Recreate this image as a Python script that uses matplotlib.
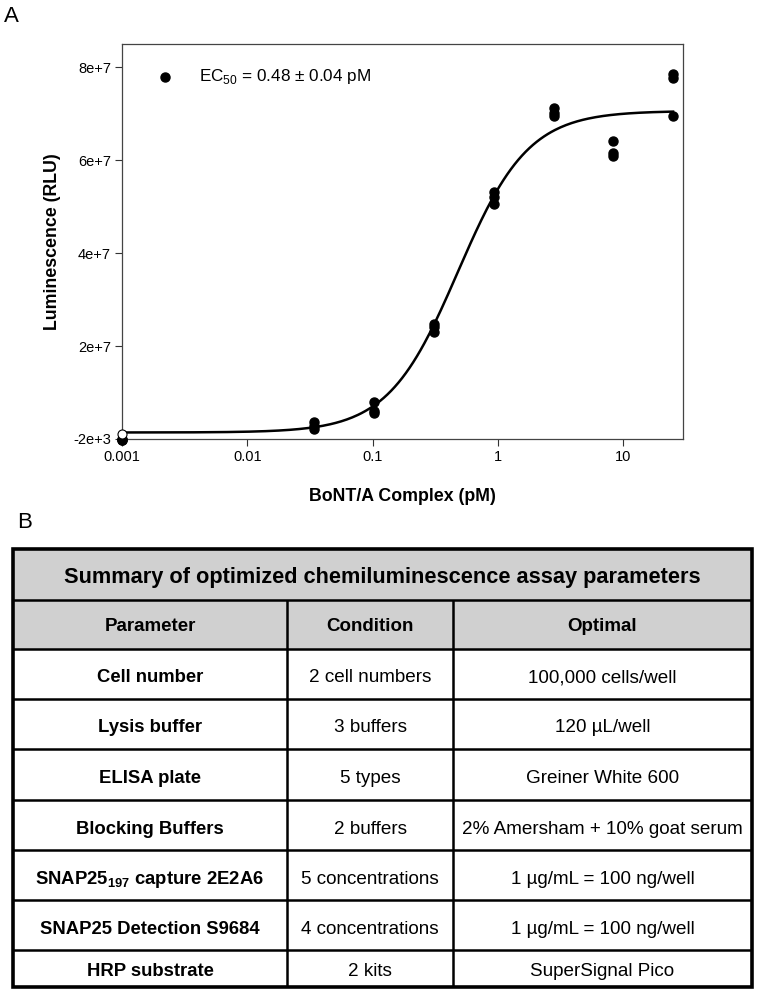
import numpy as np
import matplotlib
matplotlib.use("Agg")
import matplotlib.pyplot as plt
from matplotlib.patches import Rectangle

plt.rcParams['font.family'] = ['Liberation Sans', 'DejaVu Sans']
plt.rcParams['mathtext.fontset'] = 'custom'
plt.rcParams['mathtext.rm'] = 'Liberation Sans'
plt.rcParams['mathtext.bf'] = 'Liberation Sans:bold'

# --- panel A data (RLU) ---
conc = [0.001, 0.0343, 0.103, 0.309, 0.926, 2.78, 8.33, 25.0]
rep1 = [-0.1e6, 3.6e6, 8.0e6, 24.8e6, 53.2e6, 71.3e6, 64.2e6, 78.6e6]
rep2 = [-0.2e6, 2.8e6, 6.0e6, 24.0e6, 52.0e6, 70.2e6, 61.6e6, 77.7e6]
rep3 = [-0.3e6, 2.2e6, 5.6e6, 23.0e6, 50.6e6, 69.4e6, 60.8e6, 69.6e6]
open_x = [0.001]
open_y = [1.0e6]

# 4PL fit parameters
bottom, top, ec50, hill = 1.4e6, 70.6e6, 0.48, 1.55

# --- panel B table ---
title = "Summary of optimized chemiluminescence assay parameters"
headers = ["Parameter", "Condition", "Optimal"]
params = ["Cell number", "Lysis buffer", "ELISA plate", "Blocking Buffers",
          r"SNAP25$_{\mathbf{197}}$ capture 2E2A6", "SNAP25 Detection S9684", "HRP substrate"]
conditions = ["2 cell numbers", "3 buffers", "5 types", "2 buffers",
              "5 concentrations", "4 concentrations", "2 kits"]
optimal = ["100,000 cells/well", "120 µL/well", "Greiner White 600",
           "2% Amersham + 10% goat serum", "1 µg/mL = 100 ng/well",
           "1 µg/mL = 100 ng/well", "SuperSignal Pico"]

W, H = 758, 994
fig = plt.figure(figsize=(W / 100, H / 100), dpi=100)

ax = fig.add_axes([122 / W, 1 - 439 / H, (683 - 122) / W, (439 - 44) / H])
ax.set_xscale('log')
ax.set_xlim(0.001, 30)
ax.set_ylim(-2000, 8.5e7)

xs = np.logspace(-3, np.log10(25), 300)
ax.plot(xs, bottom + (top - bottom) / (1 + (ec50 / xs) ** hill), color='black', lw=1.8)
for r in (rep1, rep2, rep3):
    ax.plot(conc, r, 'o', color='black', ms=6.5, clip_on=False, zorder=3)
ax.plot(open_x, open_y, 'o', mfc='white', mec='black', ms=6.5, mew=0.8, clip_on=False, zorder=4)

ax.set_xticks([0.001, 0.01, 0.1, 1, 10])
ax.set_xticklabels(["0.001", "0.01", "0.1", "1", "10"])
ax.xaxis.set_minor_locator(matplotlib.ticker.NullLocator())
ax.set_yticks([-2000, 2e7, 4e7, 6e7, 8e7])
ax.set_yticklabels(["-2e+3", "2e+7", "4e+7", "6e+7", "8e+7"])
ax.tick_params(direction='out', length=5, width=0.8, labelsize=10.5, pad=3, color='#333333')
for s in ax.spines.values():
    s.set_color('#444444')
    s.set_linewidth(0.9)
ax.set_xlabel("BoNT/A Complex (pM)", fontsize=12.8, fontweight='bold', labelpad=17)
ax.set_ylabel("Luminescence (RLU)", fontsize=12.8, fontweight='bold', labelpad=9)

# legend-style annotation
ax.plot([0.0022], [7.8e7], 'o', color='black', ms=6.5)
ax.text(0.0041, 7.8e7, r"EC$_{50}$ = 0.48 ± 0.04 pM", fontsize=12.3, va='center')

fig.text(4 / W, 1 - 16 / H, "A", fontsize=16, va='center')
fig.text(17 / W, 1 - 523 / H, "B", fontsize=16, va='center')

# --- table drawn in pixel coordinates ---
tab = fig.add_axes([0, 0, 1, 1])
tab.set_xlim(0, W)
tab.set_ylim(H, 0)
tab.axis('off')

cols = [13, 287, 453, 752]
rows = [549, 600, 649, 699, 749, 800, 850, 900, 950, 987]
gray = '#d0d0d0'

tab.add_patch(Rectangle((cols[0], rows[0]), cols[-1] - cols[0], rows[2] - rows[0],
                        facecolor=gray, edgecolor='none'))
for y in rows[1:-1]:
    tab.plot([cols[0], cols[-1]], [y, y], color='black', lw=1.8, solid_capstyle='butt')
for x in cols[1:-1]:
    tab.plot([x, x], [rows[1], rows[-1]], color='black', lw=1.8, solid_capstyle='butt')
tab.add_patch(Rectangle((cols[0], rows[0]), cols[-1] - cols[0], rows[-1] - rows[0],
                        facecolor='none', edgecolor='black', lw=2.6))

tab.text((cols[0] + cols[-1]) / 2, (rows[0] + rows[1]) / 2, title,
         fontsize=15.7, fontweight='bold', ha='center', va='center_baseline')
for j, h in enumerate(headers):
    tab.text((cols[j] + cols[j + 1]) / 2, (rows[1] + rows[2]) / 2, h,
             fontsize=13.5, fontweight='bold', ha='center', va='center_baseline')
for i in range(len(params)):
    yc = (rows[i + 2] + rows[i + 3]) / 2 + 2
    if i == len(params) - 1:
        yc = rows[i + 2] + 19
    tab.text((cols[0] + cols[1]) / 2, yc, params[i], fontsize=13.3,
             fontweight='bold', ha='center', va='center_baseline')
    tab.text((cols[1] + cols[2]) / 2, yc, conditions[i], fontsize=13.6,
             ha='center', va='center_baseline')
    tab.text((cols[2] + cols[3]) / 2, yc, optimal[i], fontsize=13.6,
             ha='center', va='center_baseline')

fig.savefig("out.png", dpi=100)
